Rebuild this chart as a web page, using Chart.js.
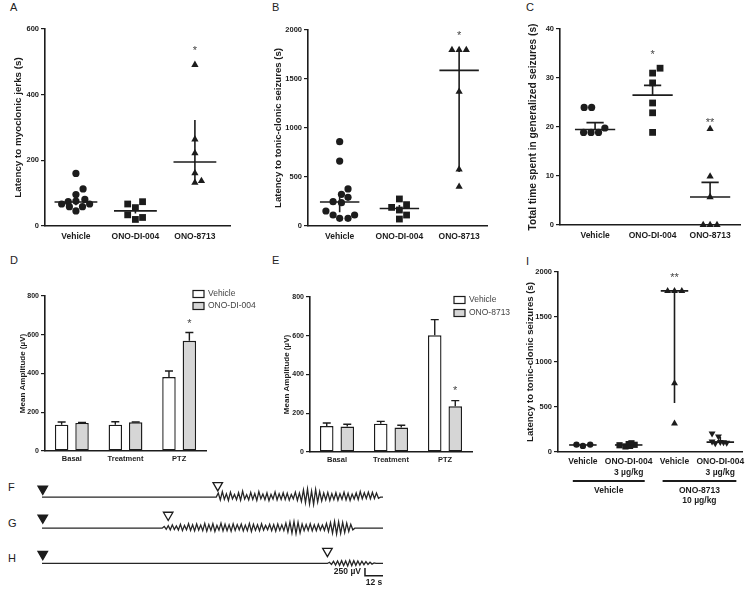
<!DOCTYPE html>
<html>
<head>
<meta charset="utf-8">
<script src="https://cdn.jsdelivr.net/npm/chart.js@4.4.1/dist/chart.umd.min.js"></script>
<style>
html, body { margin: 0; padding: 0; background: #fff; }
body { width: 750px; height: 595px; position: relative; overflow: hidden; font-family: "Liberation Sans", Arial, sans-serif; }
.lbl { position: absolute; font-size: 11px; line-height: 12px; color: #222; }
</style>
</head>
<body>
<div class="lbl" style="left:10px;top:1px">A</div>
<div class="lbl" style="left:272px;top:1px">B</div>
<div class="lbl" style="left:526px;top:1px">C</div>
<div class="lbl" style="left:10px;top:254px">D</div>
<div class="lbl" style="left:272px;top:254px">E</div>
<div class="lbl" style="left:526px;top:255px">I</div>
<div class="lbl" style="left:8px;top:481px">F</div>
<div class="lbl" style="left:8px;top:517px">G</div>
<div class="lbl" style="left:8px;top:552px">H</div>
<script>
/* ---------- data ---------- */
const scatterCats = ["Vehicle", "ONO-DI-004", "ONO-8713"];

// A: latency to myoclonic jerks (s)
const aVehicle = [160, 113, 96, 81, 76, 74, 67, 67, 59, 59, 46];
const aVehicleJit = [0, 0.12, 0, 0.15, 0, -0.13, -0.24, 0.23, -0.11, 0.11, 0];
const aDI = [74, 67, 56, 34, 26, 20];
const aDIJit = [0.12, -0.13, 0, -0.13, 0.12, 0];
const a8713 = [491, 264, 222, 161, 132, 137];
const a8713Jit = [0, 0, 0, 0, 0, 0.11];
const aMean = [73, 46, 195];
const aLow = [63, 38, 130];
const aHigh = [84, 56, 323];

// B: latency to tonic-clonic seizures (s)
const bVehicle = [860, 663, 378, 323, 293, 248, 238, 153, 112, 112, 78, 78];
const bVehicleJit = [0, 0, 0.14, 0.03, 0.14, -0.11, 0.03, -0.23, -0.11, 0.25, 0, 0.14];
const bDI = [276, 218, 190, 163, 112, 71];
const bDIJit = [0, 0.12, -0.13, 0, 0.12, 0];
const b8713 = [1796, 1796, 1796, 1371, 578, 401];
const b8713Jit = [-0.12, 0, 0.12, 0, 0, 0];
const bMean = [245, 178, 1588];
const bLow = [140, 140, 550];
const bHigh = [340, 215, 1785];

// C: total time spent in generalized seizures (s)
const cVehicle = [24, 24, 18.9, 18.9, 18.9, 19.8];
const cVehicleJit = [-0.19, -0.06, -0.2, -0.07, 0.06, 0.17];
const cDI = [31, 32, 29, 24.9, 22.9, 18.9];
const cDIJit = [0, 0.13, 0, 0, 0, 0];
const c8713 = [19.6, 9.9, 5.7, 0, 0, 0];
const c8713Jit = [0, 0, 0, -0.12, 0, 0.12];
const cMean = [19.5, 26.5, 5.7];
const cHigh = [20.9, 28.5, 8.7];

// D / E: mean amplitude (µV)
const ampCats = ["Basal", "Treatment", "PTZ"];
const dVehicle = [136, 136, 382];
const dVehicleErr = [150, 151, 413];
const dDI = [145, 148, 569];
const dDIErr = [147, 150, 612];
const eVehicle = [134, 146, 602];
const eVehicleErr = [150, 158, 683];
const e8713 = [131, 126, 236];
const e8713Err = [143, 138, 265];

// I: latency to tonic-clonic seizures (s)
const iCats = [["Vehicle"], ["ONO-DI-004", "3 µg/kg"], ["Vehicle"], ["ONO-DI-004", "3 µg/kg"]];
const iVehVeh = [82, 68, 82];
const iVehVehJit = [-0.14, 0, 0.16];
const iVehDI = [75, 62, 88, 97, 80, 68];
const iVehDIJit = [-0.2, -0.07, 0, 0.06, 0.13, 0.03];
const i8713Veh = [1790, 1790, 1790, 763, 318];
const i8713VehJit = [-0.15, 0, 0.16, 0, 0];
const i8713DI = [205, 172, 118, 112, 98, 108, 102];
const i8713DIJit = [-0.18, -0.04, -0.18, 0, -0.11, 0.07, 0.14];
const iMid = [78, 78, 1790, 110];
const iLow = [78, 78, 544, 98];
const iHigh = [78, 78, 1790, 168];

// F / G / H: EEG traces (µV), one sample every SAMPLE_DT seconds after onset
const TRACE_LEN = 227;   // s
const SAMPLE_DT = 1.35;  // s
const traceOnset = [116, 80, 190];
const traceF = [
  150,-100,200,-80,120,-120,180,-60,100,-90,160,-110,220,-70,90,-100,170,-80,130,-120,
  200,-60,110,-90,150,-130,100,-70,190,-100,120,-80,160,-90,140,-110,100,-60,180,-120,
  150,-150,260,-200,300,-250,220,-260,280,-180,200,-140,150,-100,170,-120,130,-90,160,-110,
  120,-80,180,-100,140,-120,110,-70,150,-90,200,-60,160,-50,180,-60,170,-50,150,-40
];
const traceG = [
  60,-40,90,-60,120,-50,80,-70,140,-90,100,-60,160,-80,120,-100,150,-70,110,-90,
  170,-110,130,-80,160,-120,100,-70,180,-100,140,-90,120,-110,160,-80,130,-60,150,-100,
  110,-90,170,-120,140,-80,120,-100,160,-70,100,-60,140,-90,130,-110,150,-80,120,-90,
  180,-140,220,-180,240,-200,210,-170,150,-90,130,-80,160,-100,120,-90,140,-70,110,-80,
  170,-120,200,-180,240,-210,230,-190,210,-160,180,-120,140,-60
];
const traceH = [40,-30,70,-50,80,-60,90,-70,80,-80,100,-70,90,-60,80,-50,70,-40,60,-30,40,-20,20];
const markF = [{x: 0.5, y: 300}, {x: 117, y: 425}];
const markG = [{x: 0.5, y: 375}, {x: 84, y: 475}];
const markH = [{x: 0.5, y: 300}, {x: 190, y: 400}];

/* ---------- shared style ---------- */
const FONT = "Liberation Sans";
const INK = "#1c1c1c";
Chart.defaults.font.family = FONT;
Chart.defaults.color = INK;
Chart.defaults.animation = false;
Chart.defaults.responsive = false;
Chart.defaults.plugins.legend.display = false;
Chart.defaults.plugins.tooltip.enabled = false;

function mount(r) {
    const c = document.createElement("canvas");
    c.width = r.w;
    c.height = r.h;
    c.style.cssText = `position:absolute;left:${r.x}px;top:${r.y}px;`;
    document.body.appendChild(c);
    return c;
}

// paddings that make the plot area land on the given page box
function frame(cv, area) {
    return {
        top: area.top - cv.y,
        right: cv.x + cv.w - area.right,
        yw: area.left - cv.x,
        xh: cv.y + cv.h - area.bottom
    };
}

function yAxis(f, max, step, title, titlePad, tickSize, titleSize) {
    return {
        min: 0, max,
        ticks: { stepSize: step, callback: v => String(v), font: { size: tickSize, weight: "bold" }, color: INK, padding: 2 },
        grid: { display: true, drawOnChartArea: false, drawTicks: true, tickLength: 4, color: INK, lineWidth: 1.2 },
        border: { display: true, color: INK, width: 1.6 },
        title: { display: true, text: title, color: INK, font: { size: titleSize, weight: "bold" }, padding: { top: titlePad, bottom: 0 } },
        afterFit: s => { s.width = f.yw; }
    };
}

/* ---------- plugins ---------- */
const statPlugin = {
    id: "stats",
    afterDatasetsDraw(chart, args, o) {
        if (!o.mid) return;
        const { ctx, scales: { x, y } } = chart;
        ctx.save();
        ctx.strokeStyle = INK;
        ctx.lineWidth = 1.6;
        o.mid.forEach((m, i) => {
            const c = i + 1;
            ctx.beginPath();
            ctx.moveTo(x.getPixelForValue(c - o.half), y.getPixelForValue(m));
            ctx.lineTo(x.getPixelForValue(c + o.half), y.getPixelForValue(m));
            ctx.moveTo(x.getPixelForValue(c), y.getPixelForValue(o.low[i]));
            ctx.lineTo(x.getPixelForValue(c), y.getPixelForValue(o.high[i]));
            if (o.cap) {
                ctx.moveTo(x.getPixelForValue(c - o.cap), y.getPixelForValue(o.high[i]));
                ctx.lineTo(x.getPixelForValue(c + o.cap), y.getPixelForValue(o.high[i]));
            }
            ctx.stroke();
        });
        ctx.restore();
    }
};

const markPlugin = {
    id: "marks",
    afterDatasetsDraw(chart, args, o) {
        if (!o.items) return;
        const { ctx, scales: { x, y } } = chart;
        ctx.save();
        ctx.fillStyle = "#444";
        ctx.font = `11px ${FONT}`;
        ctx.textAlign = "center";
        ctx.textBaseline = "middle";
        o.items.forEach(it => {
            const px = it.ds !== undefined
                ? chart.getDatasetMeta(it.ds).data[it.idx].x
                : x.getPixelForValue(it.x);
            ctx.fillText(it.t, px, y.getPixelForValue(it.y) + 2);
        });
        ctx.restore();
    }
};

const errPlugin = {
    id: "errbars",
    afterDatasetsDraw(chart, args, o) {
        if (!o.tops) return;
        const { ctx, scales: { y } } = chart;
        ctx.save();
        ctx.strokeStyle = INK;
        ctx.lineWidth = 1.4;
        o.tops.forEach((tops, di) => {
            chart.getDatasetMeta(di).data.forEach((bar, j) => {
                const yt = y.getPixelForValue(tops[j]);
                ctx.beginPath();
                ctx.moveTo(bar.x, bar.y);
                ctx.lineTo(bar.x, yt);
                ctx.moveTo(bar.x - 4, yt);
                ctx.lineTo(bar.x + 4, yt);
                ctx.stroke();
            });
        });
        ctx.restore();
    }
};

const keyPlugin = {
    id: "keys",
    afterDraw(chart, args, o) {
        if (o.x === undefined) return;
        const { ctx } = chart;
        ctx.save();
        ctx.font = `8.5px ${FONT}`;
        ctx.textBaseline = "middle";
        chart.data.datasets.forEach((ds, i) => {
            const yy = o.y + i * o.gap;
            ctx.fillStyle = ds.backgroundColor;
            ctx.fillRect(o.x, yy - 3.5, 11, 7);
            ctx.strokeStyle = INK;
            ctx.lineWidth = 1.2;
            ctx.strokeRect(o.x, yy - 3.5, 11, 7);
            ctx.fillStyle = "#444";
            ctx.fillText(ds.label, o.x + 15, yy);
        });
        ctx.restore();
    }
};

const groupPlugin = {
    id: "groups",
    afterDraw(chart, args, o) {
        if (!o.items) return;
        const { ctx, chartArea, scales: { x } } = chart;
        ctx.save();
        ctx.fillStyle = INK;
        ctx.font = `bold 8.5px ${FONT}`;
        ctx.textAlign = "center";
        ctx.textBaseline = "middle";
        o.items.forEach(g => {
            const x0 = x.getPixelForValue(g.from), x1 = x.getPixelForValue(g.to);
            const yb = chartArea.bottom + 29;
            ctx.fillRect(x0, yb - 1, x1 - x0, 2);
            g.text.forEach((t, k) => ctx.fillText(t, (x0 + x1) / 2, yb + 10 + k * 10));
        });
        ctx.restore();
    }
};

const scalebarPlugin = {
    id: "scalebar",
    afterDraw(chart, args, o) {
        if (o.t0 === undefined) return;
        const { ctx, scales: { x, y } } = chart;
        const x0 = x.getPixelForValue(o.t0), x1 = x.getPixelForValue(o.t0 + o.dt);
        const yb = y.getPixelForValue(o.v0), yt = y.getPixelForValue(o.v0 + o.dv);
        ctx.save();
        ctx.strokeStyle = INK;
        ctx.lineWidth = 1.5;
        ctx.beginPath();
        ctx.moveTo(x0, yt);
        ctx.lineTo(x0, yb);
        ctx.lineTo(x1, yb);
        ctx.stroke();
        ctx.fillStyle = INK;
        ctx.font = `bold 8.5px ${FONT}`;
        ctx.textBaseline = "middle";
        ctx.textAlign = "right";
        ctx.fillText(o.vLabel, x0 - 4, (yt + yb) / 2);
        ctx.textAlign = "center";
        ctx.fillText(o.tLabel, (x0 + x1) / 2, yb + 7);
        ctx.restore();
    }
};

/* ---------- panel builders ---------- */
function scatterPanel(cv, area, o) {
    const f = frame(cv, area);
    const datasets = o.groups.map((g, gi) => ({
        data: g.vals.map((v, i) => ({ x: gi + 1 + g.jit[i], y: v })),
        pointStyle: g.style,
        pointRotation: g.rot || 0,
        pointRadius: g.r,
        pointBackgroundColor: INK,
        pointBorderColor: INK,
        pointBorderWidth: 0,
        clip: false
    }));
    new Chart(mount(cv), {
        type: "scatter",
        data: { datasets },
        options: {
            layout: { padding: { top: f.top, right: f.right, left: 0, bottom: 0 } },
            scales: {
                x: {
                    type: "linear", min: o.xMin, max: o.xMax,
                    afterBuildTicks: s => { s.ticks = o.cats.map((c, i) => ({ value: i + 1 })); },
                    ticks: { callback: v => o.cats[v - 1], autoSkip: false, maxRotation: 0, color: INK,
                             font: { size: 8.5, weight: "bold" }, padding: o.xPad },
                    grid: { display: false, drawTicks: false },
                    border: { display: true, color: INK, width: 1.6 },
                    afterFit: s => { s.height = f.xh; }
                },
                y: yAxis(f, o.yMax, o.yStep, o.title, o.titlePad, 7.5, o.titleSize)
            },
            plugins: { stats: o.stats, marks: { items: o.stars }, groups: o.groupBars || {} }
        },
        plugins: [statPlugin, markPlugin, groupPlugin]
    });
}

function barPanel(cv, area, o) {
    const f = frame(cv, area);
    new Chart(mount(cv), {
        type: "bar",
        data: {
            labels: ampCats,
            datasets: o.series.map(s => ({
                label: s.label, data: s.vals, backgroundColor: s.fill,
                borderColor: INK, borderWidth: 1.4, borderSkipped: false,
                categoryPercentage: 0.76, barPercentage: 0.66
            }))
        },
        options: {
            layout: { padding: { top: f.top, right: f.right, left: 0, bottom: 0 } },
            scales: {
                x: {
                    ticks: { color: INK, font: { size: 7.5, weight: "bold" }, padding: 3 },
                    grid: { display: false, drawTicks: false },
                    border: { display: true, color: INK, width: 1.6 },
                    afterFit: s => { s.height = f.xh; }
                },
                y: yAxis(f, 800, 200, "Mean Amplitude (µV)", o.titlePad, 7, 8)
            },
            plugins: { errbars: { tops: o.series.map(s => s.err) }, marks: { items: o.stars }, keys: o.legend }
        },
        plugins: [errPlugin, markPlugin, keyPlugin]
    });
}

function tracePanel(cv, onset, samples, marks, yMin, yMax, bar) {
    const pts = [{ x: 0, y: 0 }, { x: onset, y: 0 }];
    samples.forEach((v, i) => pts.push({ x: onset + (i + 1) * SAMPLE_DT, y: v }));
    pts.push({ x: onset + (samples.length + 1) * SAMPLE_DT, y: 0 }, { x: TRACE_LEN, y: 0 });
    new Chart(mount(cv), {
        type: "line",
        data: {
            datasets: [
                { data: pts, borderColor: "#262626", borderWidth: 1.3, pointRadius: 0, tension: 0 },
                { type: "scatter", data: marks, pointStyle: "triangle", pointRotation: 180, pointRadius: 5.5,
                  pointBackgroundColor: [INK, "#fff"], pointBorderColor: INK, pointBorderWidth: 1.3, clip: false }
            ]
        },
        options: {
            layout: { padding: { left: 12, right: 12, top: 0, bottom: 0 } },
            scales: {
                x: { type: "linear", display: false, min: 0, max: TRACE_LEN },
                y: { display: false, min: yMin, max: yMax }
            },
            plugins: { scalebar: bar || {} }
        },
        plugins: [scalebarPlugin]
    });
}

/* ---------- build ---------- */
scatterPanel({ x: 0, y: 15, w: 240, h: 235 }, { left: 45, top: 29, right: 230, bottom: 226 }, {
    cats: scatterCats, xMin: 0.48, xMax: 3.59, xPad: 6,
    yMax: 600, yStep: 200, title: "Latency to myoclonic jerks (s)", titleSize: 9.8, titlePad: 12.2,
    groups: [
        { vals: aVehicle, jit: aVehicleJit, style: "circle", r: 3.6 },
        { vals: aDI, jit: aDIJit, style: "rect", r: 4.8 },
        { vals: a8713, jit: a8713Jit, style: "triangle", r: 4.2 }
    ],
    stats: { mid: aMean, low: aLow, high: aHigh, half: 0.36, cap: 0 },
    stars: [{ x: 3, y: 540, t: "*" }]
});

scatterPanel({ x: 262, y: 15, w: 230, h: 235 }, { left: 308, top: 30, right: 488, bottom: 226 }, {
    cats: scatterCats, xMin: 0.47, xMax: 3.47, xPad: 6,
    yMax: 2000, yStep: 500, title: "Latency to tonic-clonic seizures (s)", titleSize: 9.6, titlePad: 10.2,
    groups: [
        { vals: bVehicle, jit: bVehicleJit, style: "circle", r: 3.6 },
        { vals: bDI, jit: bDIJit, style: "rect", r: 4.8 },
        { vals: b8713, jit: b8713Jit, style: "triangle", r: 4.2 }
    ],
    stats: { mid: bMean, low: bLow, high: bHigh, half: 0.33, cap: 0 },
    stars: [{ x: 3, y: 1955, t: "*" }]
});

scatterPanel({ x: 515, y: 15, w: 235, h: 235 }, { left: 560, top: 29, right: 740, bottom: 225 }, {
    cats: scatterCats, xMin: 0.39, xMax: 3.52, xPad: 6,
    yMax: 40, yStep: 10, title: "Total time spent in generalized seizures (s)", titleSize: 10.2, titlePad: 11.9,
    groups: [
        { vals: cVehicle, jit: cVehicleJit, style: "circle", r: 3.6 },
        { vals: cDI, jit: cDIJit, style: "rect", r: 4.8 },
        { vals: c8713, jit: c8713Jit, style: "triangle", r: 4.2 }
    ],
    stats: { mid: cMean, low: cMean, high: cHigh, half: 0.35, cap: 0.15 },
    stars: [{ x: 2, y: 35.2, t: "*" }, { x: 3, y: 21.3, t: "**" }]
});

barPanel({ x: 0, y: 280, w: 262, h: 190 }, { left: 45, top: 296, right: 206, bottom: 451 }, {
    titlePad: 18.2,
    series: [
        { label: "Vehicle", vals: dVehicle, err: dVehicleErr, fill: "#ffffff" },
        { label: "ONO-DI-004", vals: dDI, err: dDIErr, fill: "#d6d6d6" }
    ],
    stars: [{ ds: 1, idx: 2, y: 666, t: "*" }],
    legend: { x: 193, y: 14, gap: 12 }
});

barPanel({ x: 270, y: 280, w: 250, h: 190 }, { left: 310, top: 297, right: 472, bottom: 452 }, {
    titlePad: 12.2,
    series: [
        { label: "Vehicle", vals: eVehicle, err: eVehicleErr, fill: "#ffffff" },
        { label: "ONO-8713", vals: e8713, err: e8713Err, fill: "#d6d6d6" }
    ],
    stars: [{ ds: 1, idx: 2, y: 327, t: "*" }],
    legend: { x: 184, y: 20, gap: 13 }
});

scatterPanel({ x: 515, y: 255, w: 235, h: 260 }, { left: 558, top: 272, right: 743, bottom: 452 }, {
    cats: iCats, xMin: 0.457, xMax: 4.48, xPad: 5,
    yMax: 2000, yStep: 500, title: "Latency to tonic-clonic seizures (s)", titleSize: 9.6, titlePad: 9.2,
    groups: [
        { vals: iVehVeh, jit: iVehVehJit, style: "circle", r: 3.2 },
        { vals: iVehDI, jit: iVehDIJit, style: "rect", r: 4.4 },
        { vals: i8713Veh, jit: i8713VehJit, style: "triangle", r: 4 },
        { vals: i8713DI, jit: i8713DIJit, style: "triangle", rot: 180, r: 4 }
    ],
    stats: { mid: iMid, low: iLow, high: iHigh, half: 0.3, cap: 0 },
    stars: [{ x: 3, y: 1955, t: "**" }],
    groupBars: { items: [
        { from: 0.78, to: 2.35, text: ["Vehicle"] },
        { from: 2.74, to: 4.35, text: ["ONO-8713", "10 µg/kg"] }
    ] }
});

tracePanel({ x: 30, y: 471, w: 365, h: 44 }, traceOnset[0], traceF, markF, -400, 700);
tracePanel({ x: 30, y: 502, w: 365, h: 44 }, traceOnset[1], traceG, markG, -400, 700);
tracePanel({ x: 30, y: 535, w: 365, h: 60 }, traceOnset[2], traceH, markH, -800, 700,
    { t0: 215, dt: 12, v0: -400, dv: 250, vLabel: "250 µV", tLabel: "12 s" });
</script>
</body>
</html>
